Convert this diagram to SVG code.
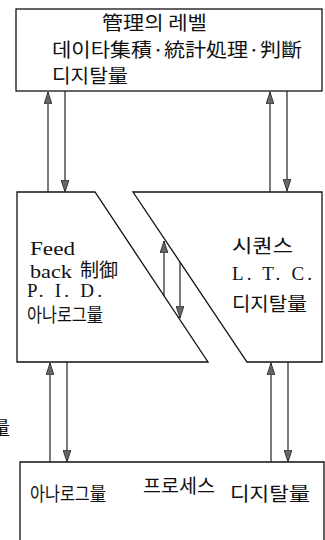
<svg xmlns="http://www.w3.org/2000/svg" width="325" height="540" viewBox="0 0 325 540">
<style>
.box{fill:#fff;stroke:#111;stroke-width:1.3}
.ln{stroke:#222;stroke-width:1.2;fill:none}
.kr{font-family:"Noto Sans CJK KR","Noto Sans CJK JP",sans-serif;font-size:19px;fill:#111}
.lat{font-family:"Liberation Serif","DejaVu Serif",serif;font-size:19px;fill:#111}
</style>
<defs>
<marker id="ah" viewBox="0 0 12 8" refX="12" refY="4" markerWidth="12" markerHeight="8" markerUnits="userSpaceOnUse" orient="auto">
<path d="M0,0 L12,4 L0,8 Z" fill="#666" stroke="#222" stroke-width="0.8"/>
</marker>
</defs>
<rect width="325" height="540" fill="#fff"/>
<g id="mgmt">
<rect class="box" x="16" y="9" width="306" height="82"/>
<text class="kr" x="102" y="30" textLength="105" lengthAdjust="spacingAndGlyphs">管理의 레벨</text>
<text class="kr" x="52" y="57" textLength="250" lengthAdjust="spacingAndGlyphs">데이타集積·統計処理·判斷</text>
<text class="kr" x="52" y="83" textLength="76" lengthAdjust="spacingAndGlyphs">디지탈量</text>
</g>
<g id="feedback">
<path class="box" d="M17,192 L95,192 L208,362 L17,362 Z"/>
<text class="lat" x="30" y="255" textLength="45" lengthAdjust="spacingAndGlyphs">Feed</text>
<text class="lat" x="30" y="278" textLength="42" lengthAdjust="spacingAndGlyphs">back</text>
<text class="kr" x="80" y="277" textLength="38" lengthAdjust="spacingAndGlyphs">制御</text>
<text class="lat" x="27" y="297" textLength="75" lengthAdjust="spacing">P. I. D.</text>
<text class="kr" x="27" y="322" textLength="76" lengthAdjust="spacingAndGlyphs">아나로그量</text>
</g>
<g id="sequence">
<path class="box" d="M133,192 L322,192 L322,362 L247,362 Z"/>
<text class="kr" x="232" y="253" textLength="61" lengthAdjust="spacingAndGlyphs">시퀀스</text>
<text class="lat" x="232" y="280" textLength="80" lengthAdjust="spacing">L. T. C.</text>
<text class="kr" x="232" y="311" textLength="75" lengthAdjust="spacingAndGlyphs">디지탈量</text>
</g>
<g id="process">
<path class="box" d="M20,545 L20,462 L324,462 L324,545"/>
<text class="kr" x="30" y="501" textLength="76" lengthAdjust="spacingAndGlyphs">아나로그量</text>
<text class="kr" x="143" y="493" textLength="72" lengthAdjust="spacingAndGlyphs">프로세스</text>
<text class="kr" x="230" y="501" textLength="80" lengthAdjust="spacingAndGlyphs">디지탈量</text>
</g>
<g id="stray">
<text class="kr" x="-9" y="435" font-size="18">量</text>
</g>
<g id="connectors">
<line class="ln" x1="48" y1="192" x2="48" y2="92" marker-end="url(#ah)"/>
<line class="ln" x1="65" y1="91" x2="65" y2="192" marker-end="url(#ah)"/>
<line class="ln" x1="270" y1="192" x2="270" y2="92" marker-end="url(#ah)"/>
<line class="ln" x1="287" y1="91" x2="287" y2="191" marker-end="url(#ah)"/>
<line class="ln" x1="164" y1="296" x2="164" y2="241" marker-end="url(#ah)"/>
<line class="ln" x1="180" y1="262" x2="180" y2="318" marker-end="url(#ah)"/>
<line class="ln" x1="50" y1="462" x2="50" y2="363" marker-end="url(#ah)"/>
<line class="ln" x1="67" y1="362" x2="67" y2="462" marker-end="url(#ah)"/>
<line class="ln" x1="271" y1="462" x2="271" y2="363" marker-end="url(#ah)"/>
<line class="ln" x1="288" y1="362" x2="288" y2="462" marker-end="url(#ah)"/>
</g>
</svg>
